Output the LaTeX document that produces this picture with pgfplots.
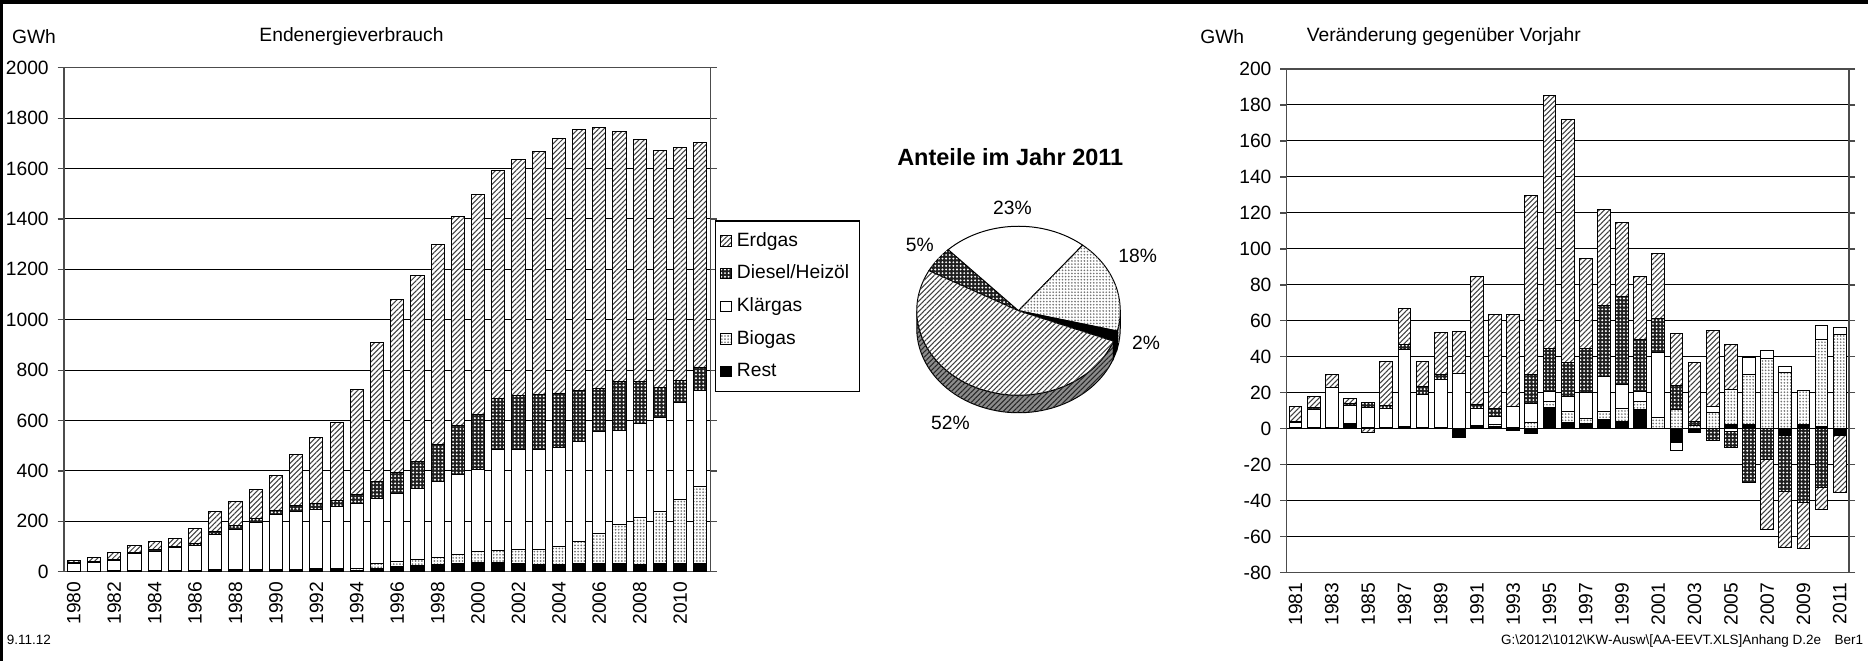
\documentclass[border=0pt]{standalone}
\usepackage{fontspec}
\setmainfont{Liberation Sans}
\usepackage{pgfplots}
\usepackage{pgfplotstable}
\pgfplotsset{compat=1.18}
\usetikzlibrary{patterns.meta}

\newcommand\lab{\fontsize{7.7}{9}\selectfont}
\newcommand\foot{\fontsize{5.4}{6}\selectfont}

% Endenergieverbrauch in GWh
\pgfplotstableread{
year rest bio klar dies erd
1980 2 0 31 3 9
1981 2 0 34 3 19
1982 3 0 42 5 26
1983 3 0 69 5 28
1984 5 0 77 5 35
1985 5 0 90 7 30
1986 6 0 99 6 61
1987 7 0 141 11 79
1988 7 0 161 16 93
1989 8 0 188 16 115
1990 5 2 221 16 139
1991 7 2 232 20 205
1992 8 3 237 22 263
1993 7 4 247 23 313
1994 5 8 259 35 415
1995 11 20 261 65 551
1996 20 22 270 80 690
1997 25 23 281 107 739
1998 29 27 304 144 793
1999 32 36 316 196 831
2000 38 44 322 221 872
2001 36 50 398 205 904
2002 32 57 395 215 935
2003 29 60 395 219 966
2004 29 71 395 211 1013
2005 34 87 397 201 1036
2006 32 119 405 170 1036
2007 32 157 370 194 995
2008 29 187 373 164 964
2009 32 208 374 119 940
2010 32 256 383 87 924
2011 32 305 384 91 891
}\energy

% Veraenderung gegenueber Vorjahr in GWh
\pgfplotstableread{
year rest bio klar dies erd
1981 1 0 2.3 0.5 8.8
1982 1 0 9.7 1 6.1
1983 0.5 0 22.6 0 7.2
1984 2.8 0 10.2 1 2.8
1985 0.5 0 11.5 2.5 -2.2
1986 1 0 10.5 1.5 24.2
1987 1.5 0 42.8 2.5 20.2
1988 0.8 0 18.2 4.7 13.5
1989 0.8 0 26.4 3 23.6
1990 -4.7 0 30.9 0 23.4
1991 2 0 9.1 2.4 70.9
1992 1.5 0.9 4.3 4.4 52.7
1993 -1 0.5 12.1 0 50.9
1994 -2.6 3.3 10.8 16.1 99.6
1995 11.7 3.7 5.5 24 140.2
1996 3.5 6 8.3 18.8 135.1
1997 2.8 3.2 14.3 24.2 50.2
1998 4.9 4.7 19.6 39.3 53.4
1999 4.3 6.8 13.4 48.9 41.1
2000 10.6 4.7 5.3 28.8 35.5
2001 0 6.4 36.2 18.5 36.6
2002 -7.4 10.6 -4.7 13.4 29.2
2003 -1.9 2 0 2.2 32.8
2004 0 8.9 3.7 -6.3 42.2
2005 2.4 19.4 -1.5 -9.1 25
2006 2.4 27.8 9.2 -30 0
2007 0 38.9 4.8 -17 -39.2
2008 -3.5 31.4 3 -31.1 -31.5
2009 2.4 19.1 0 -40.7 -25.9
2010 1.5 48.1 8 -32.7 -12.4
2011 -3.7 52.2 3.9 0 -31.8
}\change

\tikzset{
  pErd/.style={draw=black, line width=0.4pt, fill=white,
    postaction={pattern={Lines[angle=45,distance=1.45pt,line width=0.42pt]}, pattern color=black!75}},
  pDies/.style={draw=black, line width=0.4pt, fill=black!88,
    postaction={pattern={Dots[radius=0.42pt,distance=1.45pt]}, pattern color=white}},
  pKlar/.style={draw=black, line width=0.4pt, fill=white},
  pBio/.style={draw=black, line width=0.4pt, fill=white,
    postaction={pattern={Dots[radius=0.36pt,distance=1.25pt]}, pattern color=black!55}},
  pRest/.style={draw=black, line width=0.4pt, fill=black},
  pErdSide/.style={draw=black, line width=0.4pt, fill=black!45,
    postaction={pattern={Lines[angle=45,distance=1.45pt,line width=0.42pt]}, pattern color=black!85}},
}

\pgfplotsset{
  barbase/.style={
    scale only axis, anchor=south west, ybar stacked,
    tick label style={font=\lab, /pgf/number format/1000 sep={}},
    /pgf/number format/assume math mode=true,
  },
  rightgeom/.style={
    barbase, at={(514.6pt,35.3pt)}, width=224.9pt, height=201.5pt,
    bar width=5.1pt, xmin=1980.5, xmax=2011.5, ymin=-80, ymax=200,
  },
}

\begin{document}
\begin{tikzpicture}
\useasboundingbox (0,0) rectangle (747.2pt,264.4pt);

% left: Endenergieverbrauch
\begin{axis}[
  barbase, at={(25.5pt,35.7pt)}, width=258.7pt, height=201.6pt,
  bar width=5.25pt,
  xmin=1979.5, xmax=2011.5, ymin=0, ymax=2000,
  xtick={1980,1982,...,2010}, ytick={0,200,...,2000},
  ymajorgrids, grid style={black, line width=0.4pt},
  axis line style={black!70, line width=0.6pt},
  tick align=outside, major tick length=2.5pt,
  xtick style={draw=none}, ytick style={black!70, line width=0.5pt},
  xticklabel style={rotate=90, anchor=east}, xticklabel shift={-2pt},
  legend image code/.code={\draw[#1] (0pt,-2pt) rectangle (4.2pt,2.2pt);},
  reverse legend, legend cell align=left,
  legend style={at={(1.0066,0.697)}, anchor=north west, draw=black,
    line width=0.5pt, font=\lab, row sep=2pt, inner xsep=2pt, inner ysep=2.5pt,
    /tikz/every even column/.append style={column sep=0.5pt}},
]
\addplot[pRest] table[x=year,y=rest]{\energy};
\addplot[pBio]  table[x=year,y=bio]{\energy};
\addplot[pKlar] table[x=year,y=klar]{\energy};
\addplot[pDies] table[x=year,y=dies]{\energy};
\addplot[pErd]  table[x=year,y=erd]{\energy};
\legend{Rest,Biogas,Klärgas,Diesel/Heizöl\hspace{3pt},Erdgas}
\end{axis}

% right: positive changes
\begin{axis}[
  rightgeom,
  xtick={1981,1983,...,2011}, ytick={-80,-60,...,200},
  ymajorgrids, grid style={black, line width=0.4pt},
  axis line style={black!70, line width=0.6pt},
  tick align=outside, major tick length=2.5pt,
  xtick style={draw=none}, ytick style={black!70, line width=0.5pt},
  xticklabel style={rotate=90, anchor=east}, xticklabel shift={-2pt},
]
\addplot[pRest] table[x=year,y expr={max(\thisrow{rest},0)}]{\change};
\addplot[pBio]  table[x=year,y expr={max(\thisrow{bio},0)}]{\change};
\addplot[pKlar] table[x=year,y expr={max(\thisrow{klar},0)}]{\change};
\addplot[pDies] table[x=year,y expr={max(\thisrow{dies},0)}]{\change};
\addplot[pErd]  table[x=year,y expr={max(\thisrow{erd},0)}]{\change};
\end{axis}

% right: negative changes, stacked downwards from zero
\begin{axis}[rightgeom, hide axis]
\addplot[pRest] table[x=year,y expr={min(\thisrow{rest},0)}]{\change};
\addplot[pBio]  table[x=year,y expr={min(\thisrow{bio},0)}]{\change};
\addplot[pKlar] table[x=year,y expr={min(\thisrow{klar},0)}]{\change};
\addplot[pDies] table[x=year,y expr={min(\thisrow{dies},0)}]{\change};
\addplot[pErd]  table[x=year,y expr={min(\thisrow{erd},0)}]{\change};
\end{axis}

% titles
\node[font=\lab] at (13.6pt,249.7pt) {GWh};
\node[font=\lab] at (140.6pt,249.7pt) {Endenergieverbrauch};
\node[font=\lab] at (488.9pt,249.7pt) {GWh};
\node[font=\lab] at (577.5pt,249.7pt) {Veränderung gegenüber Vorjahr};
\node[font=\fontsize{9.4}{11}\selectfont\bfseries] at (404.1pt,201.6pt) {Anteile im Jahr 2011};

% pie 2011: Diesel 5, Klaergas 23, Biogas 18, Rest 2, Erdgas 52 (clockwise)
\begin{scope}[shift={(407.4pt,140.1pt)}, x radius=40.7pt, y radius=33.8pt]
  \def\dp{7pt}
  \pgfmathsetmacro\aA{151.7}
  \pgfmathsetmacro\aB{\aA-3.6*5}
  \pgfmathsetmacro\aC{\aB-3.6*23}
  \pgfmathsetmacro\aD{\aC-3.6*18}
  \pgfmathsetmacro\aE{\aD-3.6*2}
  \pgfmathsetmacro\aF{\aE-3.6*52}
  \pgfmathsetmacro\sD{\aD+360}
  \pgfmathsetmacro\sE{\aE+360}
  % side walls
  \path[pErdSide] (180:{40.7pt} and {33.8pt}) arc[start angle=180,end angle=\sE]
    -- ++(0,-\dp) arc[start angle=\sE,end angle=180] -- cycle;
  \path[pRest] (\sE:{40.7pt} and {33.8pt}) arc[start angle=\sE,end angle=\sD]
    -- ++(0,-\dp) arc[start angle=\sD,end angle=\sE] -- cycle;
  \path[pBio,fill=black!25] (\sD:{40.7pt} and {33.8pt}) arc[start angle=\sD,end angle=360]
    -- ++(0,-\dp) arc[start angle=360,end angle=\sD] -- cycle;
  % top
  \path[pDies] (0,0) -- (\aA:{40.7pt} and {33.8pt}) arc[start angle=\aA,end angle=\aB] -- cycle;
  \path[pKlar] (0,0) -- (\aB:{40.7pt} and {33.8pt}) arc[start angle=\aB,end angle=\aC] -- cycle;
  \path[pBio]  (0,0) -- (\aC:{40.7pt} and {33.8pt}) arc[start angle=\aC,end angle=\aD] -- cycle;
  \path[pRest] (0,0) -- (\aD:{40.7pt} and {33.8pt}) arc[start angle=\aD,end angle=\aE] -- cycle;
  \path[pErd]  (0,0) -- (\aE:{40.7pt} and {33.8pt}) arc[start angle=\aE,end angle=\aF] -- cycle;
\end{scope}
\node[font=\lab] at (405.0pt,181.1pt) {23\%};
\node[font=\lab] at (455.1pt,162.0pt) {18\%};
\node[font=\lab] at (367.9pt,166.3pt) {5\%};
\node[font=\lab] at (458.4pt,127.2pt) {2\%};
\node[font=\lab] at (380.2pt,95.3pt) {52\%};

% sheet frame
\draw[line width=1.6pt] (0,263.6pt) -- (747.2pt,263.6pt);
\foreach \k in {0,...,17} \draw[line width=0.5pt] ({167.2pt+34.1pt*\k},263.6pt) -- ++(0,1.2pt);
\draw[line width=1.3pt] (0.65pt,0) -- (0.65pt,264.4pt);

% footer
\node[anchor=base west, font=\foot, inner sep=0pt] at (2.5pt,6.7pt) {9.11.12};
\node[anchor=base east, font=\foot, inner sep=0pt] at (745.5pt,6.7pt)
  {G:\textbackslash 2012\textbackslash 1012\textbackslash KW-Ausw\textbackslash [AA-EEVT.XLS]Anhang D.2e\quad Ber1};
\end{tikzpicture}
\end{document}
